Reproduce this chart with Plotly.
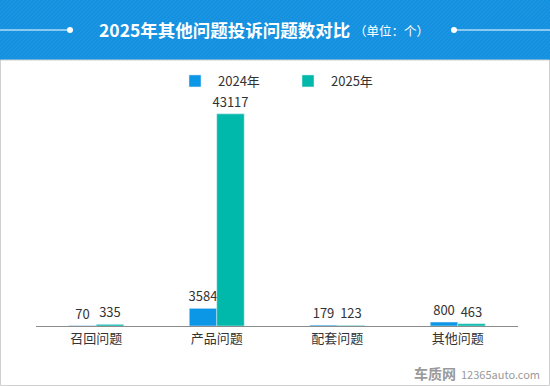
import plotly.graph_objects as go

categories = ["召回问题", "产品问题", "配套问题", "其他问题"]
values_2024 = [70, 3584, 179, 800]
values_2025 = [335, 43117, 123, 463]
series_names = ["2024年", "2025年"]

W, H = 550, 386
FONT = "Noto Sans CJK SC"
BLUE = "#0b96e6"
TEAL = "#00b9aa"
HEADER = "#1190e0"

ML, MR, MT, MB = 36, 32, 80, 60
PW = W - ML - MR
PH = H - MT - MB

fig = go.Figure()
fig.add_trace(go.Bar(name=series_names[0], x=categories, y=values_2024,
                     marker_color=BLUE, text=values_2024, textposition="outside",
                     constraintext="none",
                     textfont=dict(size=13, color="#333333"), cliponaxis=False))
fig.add_trace(go.Bar(name=series_names[1], x=categories, y=values_2025,
                     marker_color=TEAL, text=values_2025, textposition="outside",
                     constraintext="none",
                     textfont=dict(size=13, color="#333333"), cliponaxis=False))

def px_x(x):
    return (x - ML) / PW

def px_y(y):
    return (H - MB - y) / PH

shapes = [
    dict(type="rect", xref="paper", yref="paper", x0=px_x(0), x1=px_x(W), y0=px_y(60), y1=px_y(0),
         fillcolor=HEADER, line_width=0, layer="below"),
    dict(type="rect", xref="paper", yref="paper", x0=px_x(0.5), x1=px_x(549.5),
         y0=px_y(385.5), y1=px_y(60), line=dict(color="#d0d0d0", width=1),
         fillcolor="rgba(0,0,0,0)", layer="below"),
    dict(type="line", xref="paper", yref="paper", x0=px_x(0), x1=px_x(70), y0=px_y(30), y1=px_y(30),
         line=dict(color="white", width=1.2)),
    dict(type="line", xref="paper", yref="paper", x0=px_x(454), x1=px_x(W), y0=px_y(30), y1=px_y(30),
         line=dict(color="white", width=1.2)),
    dict(type="circle", xref="paper", yref="paper", x0=px_x(67), x1=px_x(73), y0=px_y(33), y1=px_y(27),
         fillcolor="white", line_width=0),
    dict(type="circle", xref="paper", yref="paper", x0=px_x(451), x1=px_x(457), y0=px_y(33), y1=px_y(27),
         fillcolor="white", line_width=0),
]
for i in range(-20, 140):
    x0 = i * 4
    shapes.append(dict(type="line", xref="paper", yref="paper",
                       x0=px_x(x0), x1=px_x(x0 + 60), y0=px_y(60), y1=px_y(0),
                       line=dict(color="rgba(255,255,255,0.05)", width=1.5), layer="below"))

annotations = [
    dict(xref="paper", yref="paper", x=px_x(352), y=px_y(30), xanchor="right", yanchor="middle",
         text="<b>2025年其他问题投诉问题数对比</b>", showarrow=False,
         font=dict(family=FONT, size=17.5, color="white")),
    dict(xref="paper", yref="paper", x=px_x(352), y=px_y(31), xanchor="left", yanchor="middle",
         text="（单位：个）", showarrow=False,
         font=dict(family=FONT, size=12.5, color="white")),
    dict(xref="paper", yref="paper", x=px_x(458), y=px_y(373), xanchor="right", yanchor="middle",
         text="<b>车质网</b>", showarrow=False,
         font=dict(family=FONT, size=14, color="#9a9a9a")),
    dict(xref="paper", yref="paper", x=px_x(459), y=px_y(374), xanchor="left", yanchor="middle",
         text="12365auto.com", showarrow=False,
         font=dict(family=FONT, size=11, color="#9a9a9a")),
]

fig.update_layout(
    width=W, height=H,
    margin=dict(l=ML, r=MR, t=MT, b=MB),
    paper_bgcolor="white", plot_bgcolor="white",
    font=dict(family=FONT, size=13, color="#333333"),
    barmode="group", bargap=0.544, bargroupgap=0,
    showlegend=True,
    legend=dict(orientation="h", x=px_x(172), y=px_y(81), xanchor="left", yanchor="middle",
                font=dict(size=13, color="#333333"), entrywidth=62, entrywidthmode="pixels",
                itemwidth=36,
                itemclick=False, bgcolor="rgba(0,0,0,0)"),
    shapes=shapes,
    annotations=annotations,
    xaxis=dict(showline=True, linecolor="#8c8c8c", linewidth=1, ticks="",
               tickfont=dict(size=13, color="#333333"), fixedrange=True),
    yaxis=dict(range=[0, 50000], visible=False, showgrid=False, fixedrange=True),
)

fig.write_html("out.html", config={"displayModeBar": False},
               post_script="document.body.style.margin='0';")
